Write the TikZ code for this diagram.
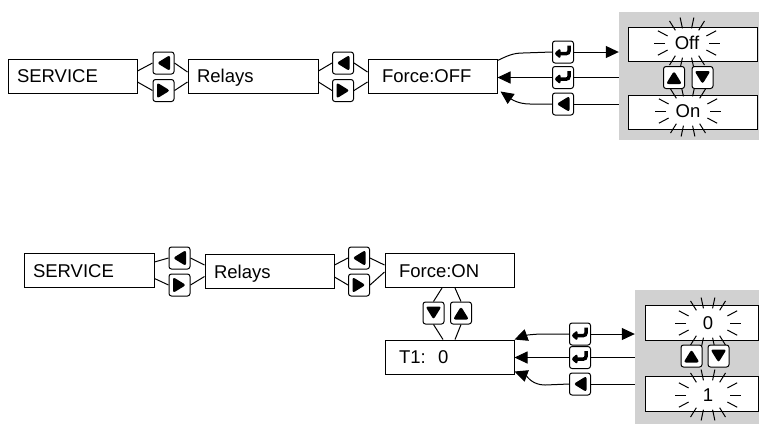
\documentclass[tikz,border=0pt]{standalone}
\usepackage{fontspec}
\setmainfont{Liberation Sans}
\usetikzlibrary{positioning, arrows.meta, calc}

\definecolor{panelgray}{RGB}{209,209,209}
\newcommand{\menufont}{\fontsize{18.5}{20}\selectfont}
\newcommand{\glowrays}[1]{%
  \foreach \ang in {0,28,58,78,102,122,152,180,208,238,258,282,302,332}
    \draw[ray, shift={(#1)}] (\ang:22 and 15) -- (\ang:33 and 26);%
}

\begin{document}
\begin{tikzpicture}[x=1pt, y=-1pt,
    menubox/.style={draw, line width=1pt, fill=white, inner xsep=9pt, inner ysep=0pt, minimum height=34pt, align=left, text height=13.3pt, text depth=0pt, font=\menufont},
    valbox/.style={draw, line width=1pt, fill=white, inner sep=0pt, minimum height=34pt},
    valtext/.style={inner sep=0pt, font=\menufont},
    panel/.style={fill=panelgray, inner sep=0pt},
    key/.style={draw, line width=1pt, rounded corners=2.5pt, fill=white, minimum width=21pt, minimum height=22pt, inner sep=0pt},
    keyleft/.style={key, path picture={\fill[black] ([xshift=-6.5pt]path picture bounding box.center) -- ++(13pt,8pt) -- ++(0pt,-16pt) -- cycle;}},
    keyright/.style={key, path picture={\fill[black] ([xshift=6.5pt]path picture bounding box.center) -- ++(-13pt,8pt) -- ++(0pt,-16pt) -- cycle;}},
    keyup/.style={key, path picture={\fill[black] ([yshift=6.5pt]path picture bounding box.center) -- ++(8pt,-13pt) -- ++(-16pt,0pt) -- cycle;}},
    keydown/.style={key, path picture={\fill[black] ([yshift=-6.5pt]path picture bounding box.center) -- ++(8pt,13pt) -- ++(-16pt,0pt) -- cycle;}},
    keyenter/.style={key, path picture={
        \draw[black, line width=3.5pt] ([shift={(6pt,6.5pt)}]path picture bounding box.center) -- ++(0pt,-8pt) -- ++(-9pt,0pt);
        \fill[black] ([shift={(-9pt,-1.5pt)}]path picture bounding box.center) -- ++(6.5pt,5.5pt) -- ++(0pt,-11pt) -- cycle;}},
    ray/.style={line width=1pt},
    link/.style={line width=1pt},
    flow/.style={link, -{Triangle[length=13pt, width=12pt]}}
]
    \useasboundingbox (0,0) rectangle (759,424);

    % Top row: Force:OFF ===========================
    \node[menubox, text width=111pt] (service1) at (72.5,76) {SERVICE};
    \node[menubox, text width=112pt] (relays1) at (253,76) {Relays};
    \node[menubox, inner xsep=14pt, text width=101pt] (force1) at (432.5,76) {Force:OFF};

    \node[keyleft] (back1a) at (163.5,63) {};
    \node[keyright] (next1a) at (163.5,90.5) {};
    \node[keyleft] (back1b) at (343,63) {};
    \node[keyright] (next1b) at (343,90.5) {};

    \draw[link] ($(service1.east)+(0,-5)$) -- (back1a.west);
    \draw[link] ($(service1.east)+(0,6)$) -- (next1a.west);
    \draw[link] (back1a.east) -- ($(relays1.west)+(0,-4)$);
    \draw[link] (next1a.east) -- ($(relays1.west)+(0,6)$);
    \draw[link] ($(relays1.east)+(0,-5)$) -- (back1b.west);
    \draw[link] ($(relays1.east)+(0,6)$) -- (next1b.west);
    \draw[link] (back1b.east) -- ($(force1.west)+(0,-4)$);
    \draw[link] (next1b.east) -- ($(force1.west)+(0,6)$);

    % Off / On choice
    \node[panel, minimum width=140pt, minimum height=128pt] (panel1) at (689,76) {};
    \node[valbox, minimum width=129pt] (offbox) at (692.5,44) {};
    \node[valbox, minimum width=129pt] (onbox) at (692.5,112) {};
    \node[valtext] (offtxt) at (687,43) {Off};
    \node[valtext] (ontxt) at (688,111) {On};
    \glowrays{offtxt}
    \glowrays{ontxt}
    \node[keyup] (up1) at (674,77.5) {};
    \node[keydown] (down1) at (702.5,77.5) {};

    \coordinate (bend1a) at (523,53);
    \coordinate (bend1c) at (530,104);
    \node[keyenter] (ok1a) at (563,52) {};
    \node[keyenter] (ok1b) at (563,77.5) {};
    \node[keyleft] (esc1) at (563,104) {};

    \draw[link] ($(force1.north east)+(0,2)$) to[out=25, in=180] (bend1a) -- (ok1a.west);
    \draw[flow] (ok1a.east) -- (panel1.west |- ok1a.east);
    \draw[link] (panel1.west |- ok1b.east) -- (ok1b.east);
    \draw[flow] (ok1b.west) -- (force1.east |- ok1b.west);
    \draw[link] (panel1.west |- esc1.east) -- (esc1.east);
    \draw[flow] (esc1.west) -- (bend1c) to[out=180, in=-35] ($(force1.south east)+(3,-2)$);

    % Bottom row: Force:ON ===========================
    \node[menubox, text width=112pt] (service2) at (89,270.5) {SERVICE};
    \node[menubox, text width=111pt] (relays2) at (269.5,271.5) {Relays};
    \node[menubox, inner xsep=14pt, text width=101pt] (force2) at (449.5,270.5) {Force:ON};
    \node[menubox, inner xsep=14pt, text width=101pt] (t1) at (449.5,357) {T1:\ \ 0};

    \node[keyleft] (back2a) at (179.5,258) {};
    \node[keyright] (next2a) at (179.5,285) {};
    \node[keyleft] (back2b) at (359,258) {};
    \node[keyright] (next2b) at (359,285) {};
    \node[keydown] (down2) at (433.5,313) {};
    \node[keyup] (up2) at (461,313) {};

    \draw[link] ($(service2.east)+(0,-8.5)$) -- (back2a.west);
    \draw[link] ($(service2.east)+(0,8)$) -- (next2a.west);
    \draw[link] (back2a.east) -- ($(relays2.west)+(0,-6.5)$);
    \draw[link] (next2a.east) -- ($(relays2.west)+(0,5)$);
    \draw[link] ($(relays2.east)+(0,-6.5)$) -- (back2b.west);
    \draw[link] ($(relays2.east)+(0,5.5)$) -- (next2b.west);
    \draw[link] (back2b.east) -- ($(force2.west)+(0,-5.5)$);
    \draw[link] (next2b.east) -- ($(force2.west)+(0,1.5)$);
    \draw[link] ($(force2.south)+(-7.5,0)$) -- (down2.north);
    \draw[link] ($(force2.south)+(5.5,0)$) -- (up2.north);
    \draw[link] (down2.south) -- ($(t1.north)+(-6.5,0)$);
    \draw[link] (up2.south) -- ($(t1.north)+(5.5,0)$);

    % 0 / 1 choice
    \node[panel, minimum width=124pt, minimum height=134pt] (panel2) at (697,357) {};
    \node[valbox, minimum width=113pt, minimum height=35pt] (zerobox) at (701.5,322.5) {};
    \node[valbox, minimum width=113pt, minimum height=35pt] (onebox) at (701.5,394) {};
    \node[valtext] (zerotxt) at (708,323) {0};
    \node[valtext] (onetxt) at (708,395) {1};
    \glowrays{zerotxt}
    \glowrays{onetxt}
    \node[keyup] (up3) at (691.5,356) {};
    \node[keydown] (down3) at (718.5,356) {};

    \coordinate (bend2a) at (545,334);
    \coordinate (bend2c) at (545,385);
    \node[keyenter] (ok2a) at (580,334) {};
    \node[keyenter] (ok2b) at (580,357.5) {};
    \node[keyleft] (esc2) at (580,384) {};

    \draw[flow] (ok2a.west) -- (bend2a) to[out=180, in=20] (t1.north east);
    \draw[flow] (ok2a.east) -- (panel2.west |- ok2a.east);
    \draw[link] (panel2.west |- ok2b.east) -- (ok2b.east);
    \draw[flow] (ok2b.west) -- (t1.east |- ok2b.west);
    \draw[link] (panel2.west |- esc2.east) -- (esc2.east);
    \draw[flow] (esc2.west) -- (bend2c) to[out=180, in=-20] ($(t1.south east)+(0,-3)$);

\end{tikzpicture}
\end{document}
